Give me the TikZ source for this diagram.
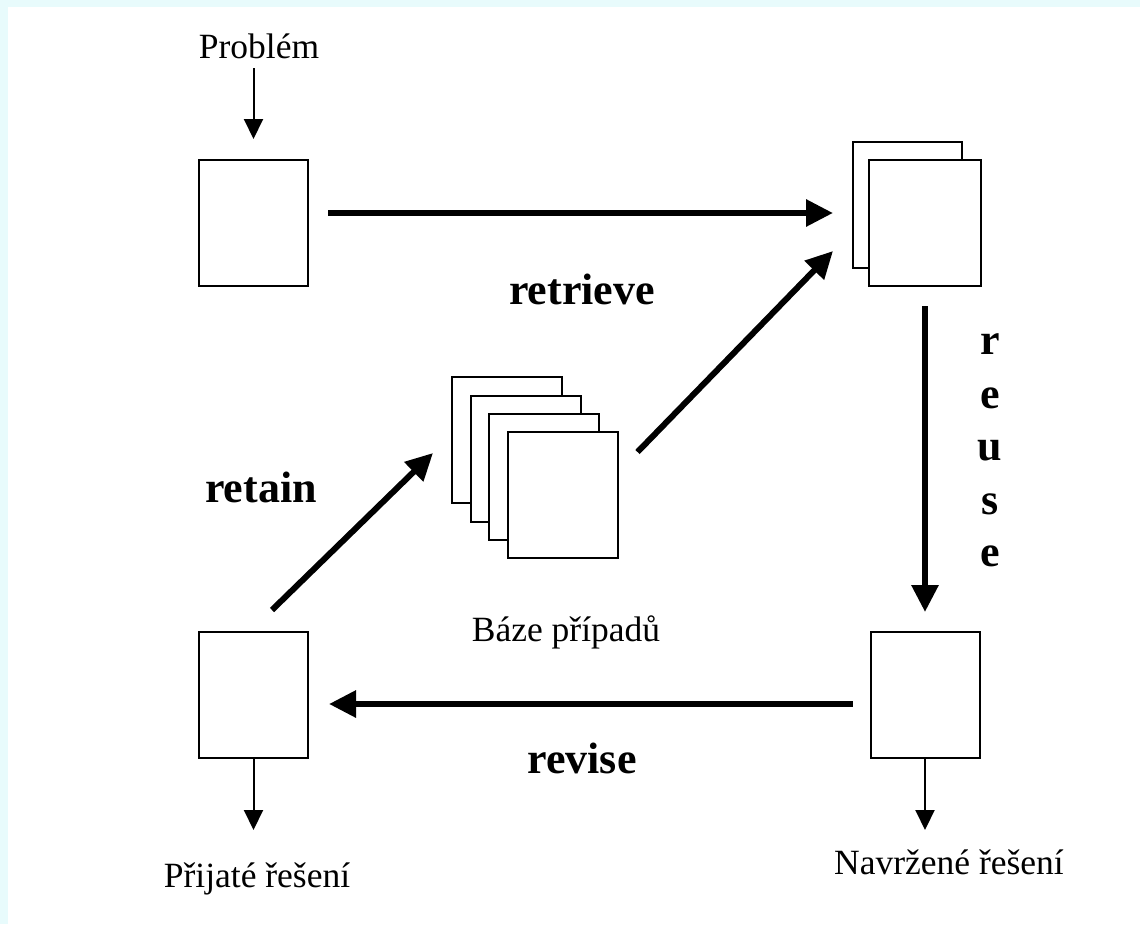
\documentclass[tikz,border=0pt]{standalone}
\usepackage{fontspec}
\setmainfont{Liberation Serif}
\usetikzlibrary{arrows.meta,calc}
\definecolor{framecyan}{RGB}{232,251,252}
\tikzset{
  card/.style={draw=black, fill=white, line width=2pt, minimum width=109pt, minimum height=126pt, inner sep=0pt},
  thinarrow/.style={line width=2pt, -{Triangle[length=20pt,width=19pt]}},
  bigarrow/.style={line width=6pt, -{Triangle[length=27pt,width=26pt]}},
  caption/.style={inner sep=0pt, font=\fontsize{35.5}{40}\selectfont},
  stepname/.style={inner sep=0pt, font=\fontsize{44}{50}\selectfont\bfseries},
}
\begin{document}
\begin{tikzpicture}[x=1pt, y=-1pt]
  \useasboundingbox (0,0) rectangle (1140,924);
  \fill[framecyan] (0,0) rectangle (1140,924);
  \fill[white] (8,7) rectangle (1140,924);

  % input problem
  \node[caption] (prob) at (259,46) {Problém};
  \node[card] (new) at (253.5,223) {};
  \coordinate (probtail) at (253.5,68);
  \draw[thinarrow, shorten >=20pt] (probtail) -- (new.north);

  % retrieved cases (two sheets)
  \node[card] (tback) at (907.5,205) {};
  \node[card, minimum width=112pt] (tfront) at (925,223) {};

  % case base (four sheets)
  \node[card, minimum width=110pt] (b1) at (507,440) {};
  \node[card, minimum width=110pt] (b2) at (526,458.5) {};
  \node[card, minimum width=110pt] (b3) at (544,476.5) {};
  \node[card, minimum width=110pt] (b4) at (562.5,495) {};
  \node[caption] (base) at (566,632) {Báze případů};

  % proposed and accepted solutions
  \node[card] (prop) at (925,695) {};
  \node[card] (acc) at (253.5,695) {};
  \coordinate (propout) at (925,830);
  \coordinate (accout) at (253.5,830);
  \draw[thinarrow] (prop.south) -- (propout);
  \draw[thinarrow] (acc.south) -- (accout);
  \node[caption] (proplbl) at (949,862) {Navržené řešení};
  \node[caption] (acclbl) at (257,879) {Přijaté řešení};

  % the four steps of the cycle
  \draw[bigarrow, shorten <=19pt, shorten >=19pt]
    ([yshift=10pt]new.east) -- ([yshift=10pt]new.east -| tback.west);
  \draw[bigarrow] ([shift={(19,-43)}]b4.east) -- ([shift={(-19,-18)}]tback.south west);
  \draw[bigarrow, shorten <=19pt, shorten >=19pt] (tfront.south) -- (prop.north);
  \draw[bigarrow, shorten <=17pt, shorten >=20pt]
    ([yshift=-9pt]prop.west) -- ([yshift=-9pt]acc.east);
  \draw[bigarrow] ([shift={(18.5,-21)}]acc.north) -- ([shift={(-18,-51)}]b1.south west);

  \node[stepname] (retrieve) at (582,289) {retrieve};
  \node[stepname] (revise) at (582,758) {revise};
  \node[stepname] (retain) at (261,487) {retain};
  \node[stepname] (u1) at (990,344) {r};
  \node[stepname] (u2) at (990,398) {e};
  \node[stepname] (u3) at (990,451) {u};
  \node[stepname] (u4) at (990,504) {s};
  \node[stepname] (u5) at (990,556) {e};
\end{tikzpicture}
\end{document}
